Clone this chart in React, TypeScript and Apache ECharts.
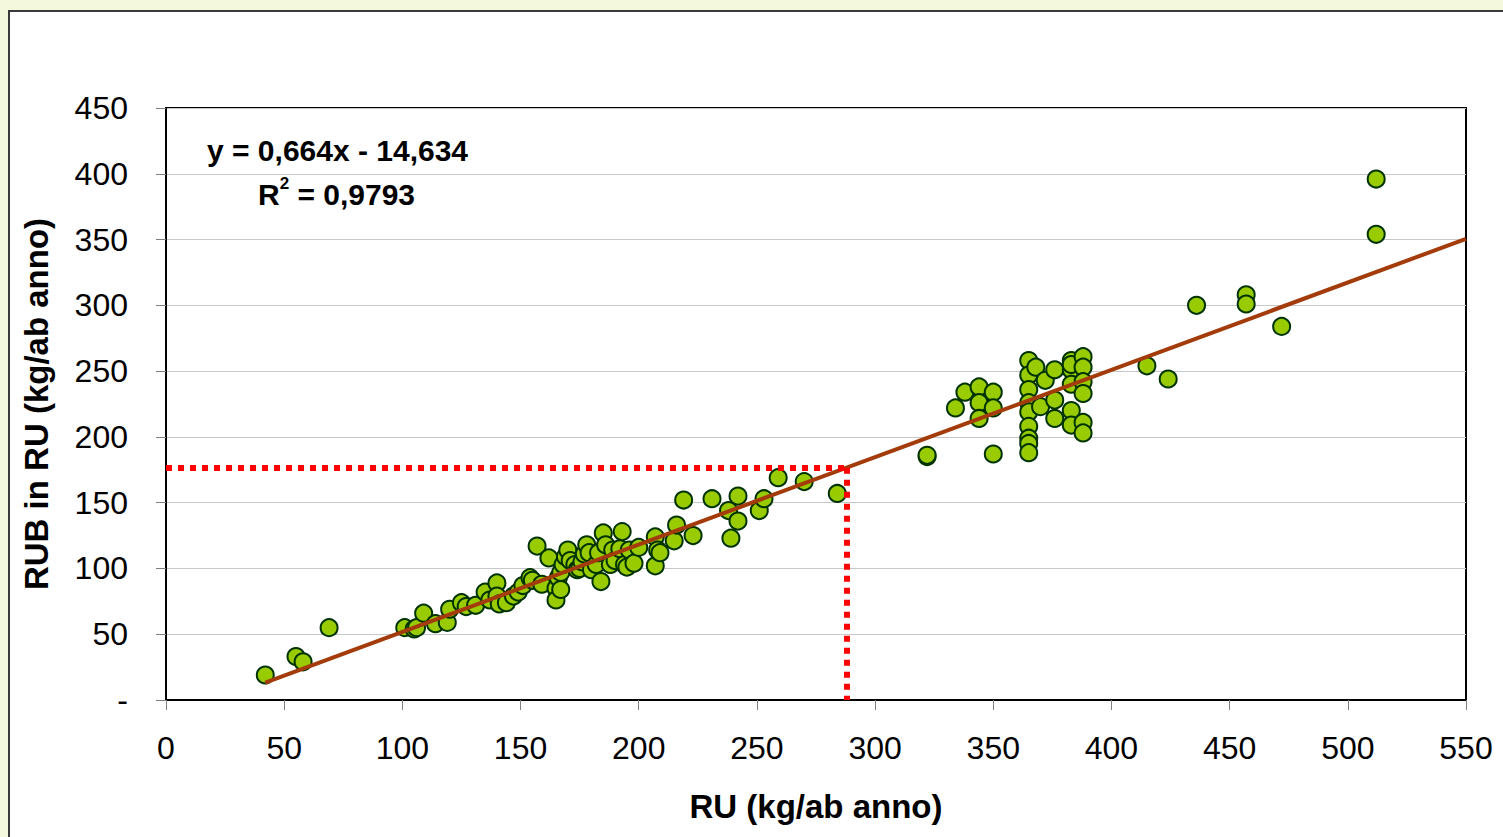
import React, { useEffect, useRef } from "react";
import * as echarts from "echarts";

// RU (kg/ab anno) values
const ruValues: number[] = [
  42, 55, 58, 69, 101, 105, 106, 109, 114, 119, 120, 125, 127, 131, 135, 137, 140, 140, 141, 144,
  147, 149, 151, 154, 155, 157, 159, 162, 165, 165, 166, 167, 167, 168, 169, 170, 171, 173, 174, 175,
  176, 177, 178, 179, 180, 182, 183, 184, 185, 186, 188, 189, 190, 192, 193, 194, 195, 196, 198, 200,
  207, 207, 208, 209, 215, 216, 219, 223, 231, 238, 239, 242, 242, 251, 253, 259, 270, 284,
  322, 322, 334, 338, 344, 344, 344, 350, 350, 350, 365, 365, 365, 365, 365, 365, 365, 365, 365,
  368, 372, 370, 376, 376, 376, 383, 383, 383, 383, 383, 383, 388, 388, 388, 388, 388, 388,
  415, 424, 436, 457, 457, 472, 512, 512,
];
// RUB in RU (kg/ab anno) values
const rubValues: number[] = [
  19, 33, 29, 55, 55, 54, 55, 66, 58, 59, 69, 74, 71, 72, 82, 76, 89, 79, 73, 74,
  79, 82, 87, 93, 91, 117, 88, 108, 85, 76, 93, 84, 97, 103, 109, 114, 106, 103, 99, 100,
  105, 111, 118, 112, 99, 103, 112, 90, 127, 118, 103, 114, 106, 115, 128, 103, 101, 114, 104, 116,
  124, 102, 114, 112, 121, 133, 152, 125, 153, 144, 123, 155, 136, 144, 153, 169, 166, 157,
  185, 186, 222, 234, 238, 226, 214, 234, 222, 187, 258, 247, 236, 226, 219, 208, 199, 195, 188,
  253, 243, 223, 251, 228, 214, 258, 251, 220, 209, 255, 240, 261, 253, 242, 233, 211, 203,
  254, 244, 300, 308, 301, 284, 396, 354,
];

// Trend line: y = 0,664x - 14,634
const slope = 0.664;
const intercept = -14.634;
const trendRange: number[] = [42, 550];
const refX = 288;

const xTicks = { min: 0, max: 550, interval: 50 };
const yTicks = { min: 0, max: 450, interval: 50 };

const FONT = "'Liberation Sans', Arial, sans-serif";

export default function App() {
  const ref = useRef<HTMLDivElement>(null);

  useEffect(() => {
    if (!ref.current) return;
    const chart = echarts.init(ref.current, undefined, { renderer: "svg" });
    const points = ruValues.map((x, i) => [x, rubValues[i]]);
    const trend = trendRange.map((x) => [x, slope * x + intercept]);
    const refY = slope * refX + intercept;

    chart.setOption({
      animation: false,
      backgroundColor: "transparent",
      textStyle: { fontFamily: FONT },
      grid: {
        left: 166,
        top: 108,
        right: 37,
        bottom: 137,
        show: true,
        borderColor: "#000",
        borderWidth: 2,
        backgroundColor: "transparent",
      },
      xAxis: {
        type: "value",
        min: xTicks.min,
        max: xTicks.max,
        interval: xTicks.interval,
        name: "RU (kg/ab anno)",
        nameLocation: "middle",
        nameGap: 90,
        nameTextStyle: { fontSize: 33, fontWeight: "bold", color: "#000", fontFamily: FONT },
        axisLine: { show: true, lineStyle: { color: "#000", width: 2 } },
        axisTick: { show: true, length: 10, lineStyle: { color: "#808080", width: 1 } },
        axisLabel: { fontSize: 32, color: "#000", margin: 32, fontFamily: FONT },
        splitLine: { show: false },
      },
      yAxis: {
        type: "value",
        min: yTicks.min,
        max: yTicks.max,
        interval: yTicks.interval,
        name: "RUB in RU (kg/ab anno)",
        nameLocation: "middle",
        nameGap: 113,
        nameTextStyle: { fontSize: 33, fontWeight: "bold", color: "#000", fontFamily: FONT },
        axisLine: { show: true, lineStyle: { color: "#000", width: 2 } },
        axisTick: { show: true, length: 10, lineStyle: { color: "#808080", width: 1 } },
        axisLabel: {
          fontSize: 32,
          color: "#000",
          margin: 38,
          fontFamily: FONT,
          formatter: (v: number) => (v === 0 ? "-" : String(v)),
        },
        splitLine: { show: true, lineStyle: { color: "#c8c8c8", width: 1 } },
      },
      series: [
        {
          type: "scatter",
          data: points,
          symbol: "circle",
          symbolSize: 17,
          itemStyle: { color: "#99CC00", borderColor: "#003300", borderWidth: 2, opacity: 1 },
          z: 2,
          markLine: {
            silent: true,
            symbol: "none",
            label: { show: false },
            lineStyle: { color: "#FF0000", width: 6, type: [6, 6], opacity: 1 },
            data: [
              [{ coord: [0, refY] }, { coord: [refX, refY] }],
              [{ coord: [refX, refY] }, { coord: [refX, 0] }],
            ],
          },
        },
        {
          type: "line",
          data: trend,
          symbol: "none",
          lineStyle: { color: "#A33C0A", width: 4 },
          z: 4,
        },
      ],
      graphic: [
        {
          type: "text",
          left: 207,
          top: 135,
          style: {
            text: "y = 0,664x - 14,634",
            font: `bold 30px ${FONT}`,
            fill: "#000",
          },
        },
        {
          type: "text",
          left: 258,
          top: 175,
          style: {
            text: "{b|R}{s|2}{b| = 0,9793}",
            rich: {
              b: { font: `bold 30px ${FONT}`, fill: "#000", verticalAlign: "bottom", lineHeight: 34 },
              s: { font: `bold 17px ${FONT}`, fill: "#000", verticalAlign: "top", lineHeight: 34, padding: [0, 0, 16, 0] },
            },
          },
        },
      ],
    });
    return () => chart.dispose();
  }, []);

  return (
    <div style={{ position: "absolute", left: 0, top: 0, width: 1503, height: 837, background: "#F4F9DD", overflow: "hidden" }}>
      <div
        style={{
          position: "absolute",
          left: 8,
          top: 10,
          width: 1600,
          height: 900,
          background: "#fff",
          border: "2px solid #3a3a3a",
        }}
      />
      <div ref={ref} style={{ position: "absolute", left: 0, top: 0, width: 1503, height: 837 }} />
    </div>
  );
}
